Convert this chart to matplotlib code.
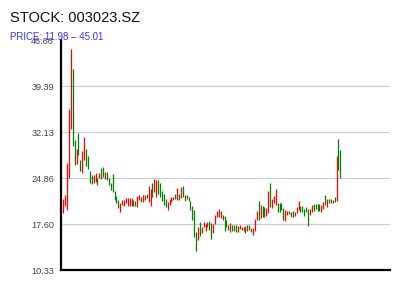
import matplotlib
matplotlib.use("Agg")
import matplotlib.pyplot as plt
import numpy as np

plt.rcParams['font.family'] = ['Liberation Sans', 'DejaVu Sans']

title = "STOCK: 003023.SZ"
subtitle = "PRICE: 11.98 \u2013 45.01"
y_ticks = [10.33, 17.60, 24.86, 32.13, 39.39, 46.66]

opens = [19.45, 20.55, 19.87, 24.97, 32.66, 42.13, 30.92, 27.13, 31.97, 27.76,
         25.66, 27.76, 29.50, 28.39, 26.03, 25.39, 24.18, 24.34, 24.87, 24.87,
         26.45, 26.71, 24.71, 25.92, 24.87, 24.18, 25.55, 22.87, 22.08, 21.45,
         19.60, 20.66, 20.55, 20.92, 20.55, 20.55, 21.71, 20.55, 21.29, 20.39,
         21.45, 21.97, 21.18, 21.45, 22.39, 21.18, 20.55, 24.18, 22.76, 21.97,
         24.60, 24.08, 22.92, 22.39, 21.55, 19.87, 20.66, 21.18, 21.45, 22.39,
         21.45, 22.39, 21.71, 23.71, 22.18, 21.55, 21.97, 21.34, 20.55, 19.87,
         16.34, 15.13,
         17.91, 16.28, 17.23, 16.60, 17.23, 18.17, 17.75, 16.17, 17.65, 18.70,
         18.81, 19.70, 18.28, 18.91, 18.28, 17.44, 16.44, 17.49, 17.49, 17.49,
         16.33, 16.81, 16.70, 16.60, 17.33, 16.60, 17.49, 17.07, 15.96, 16.60,
         18.28, 21.33, 18.54, 20.49, 20.28, 18.91, 19.33, 24.17, 20.12, 20.91,
         20.65, 21.02, 21.02, 21.02, 20.12, 18.17, 19.07, 19.23, 19.60, 19.70,
         18.91, 19.33, 19.86, 20.49, 20.49, 20.02, 20.28, 20.02, 19.07, 19.60,
         20.81, 20.81, 20.81, 20.81, 19.60, 19.96, 22.23, 20.28, 21.60, 21.60,
         21.02, 21.96, 21.33, 31.07, 29.33]
closes = [21.61, 22.24, 27.24, 35.81, 45.29, 30.03, 26.97, 29.50, 28.55, 26.08,
          29.18, 31.34, 26.87, 26.29, 24.18, 23.97, 25.39, 25.76, 23.82, 25.66,
          24.71, 25.03, 25.92, 24.60, 23.82, 23.03, 22.66, 21.45, 20.92, 20.13,
          20.92, 21.45, 21.45, 21.71, 21.71, 21.71, 20.55, 21.45, 20.55, 22.08,
          22.24, 21.18, 22.24, 22.24, 21.71, 23.71, 23.18, 21.97, 24.71, 24.60,
          22.39, 21.87, 21.34, 20.66, 20.39, 21.08, 21.55, 21.97, 21.97, 21.55,
          23.34, 21.45, 23.55, 21.87, 21.34, 22.24, 21.29, 19.87, 18.29, 15.66,
          13.45, 17.24,
          15.81, 17.23, 17.91, 17.60, 18.02, 16.70, 15.28, 17.65, 19.07, 19.70,
          20.02, 18.54, 19.07, 16.60, 17.23, 16.70, 17.75, 16.60, 16.60, 16.44,
          17.33, 17.49, 17.23, 17.23, 16.28, 17.49, 16.70, 16.44, 16.96, 18.44,
          19.70, 18.28, 20.65, 18.81, 18.70, 20.23, 22.86, 20.38, 21.65, 22.12,
          23.17, 19.60, 19.60, 19.86, 18.28, 19.86, 19.75, 19.75, 18.81, 18.70,
          19.60, 20.38, 21.33, 19.60, 19.60, 18.96, 19.60, 17.33, 20.02, 20.65,
          19.75, 19.96, 19.75, 19.75, 20.65, 21.17, 20.65, 21.60, 20.91, 21.02,
          21.44, 21.17, 28.38, 26.17, 24.86]

n = len(opens)
idx = np.arange(n)
o = np.array(opens)
c = np.array(closes)
colors = np.where(c >= o, '#ff0000', '#008000')

fig = plt.figure(figsize=(4, 3), dpi=100)
ax = fig.add_axes([0.1525, 0.099, 0.8225, 0.7667])

for t in y_ticks[1:-1]:
    ax.axhline(t, color='#cccccc', lw=0.8, zorder=0)

ax.vlines(idx, np.minimum(o, c), np.maximum(o, c), colors=colors, lw=0.9, zorder=2)

ppi = (340.3 - 63.3) / (n - 1)
ax.set_xlim(-(63.3 - 61) / ppi, (n - 1) + (390 - 340.3) / ppi)
ax.set_ylim(y_ticks[0], y_ticks[-1])
ax.set_yticks(y_ticks)
ax.set_yticklabels([f"{t:.2f}" for t in y_ticks], fontsize=6.6, color='#444444')
ax.tick_params(axis='y', length=0, pad=5)
ax.set_xticks([])
for s in ['top', 'right']:
    ax.spines[s].set_visible(False)
for s in ['left', 'bottom']:
    ax.spines[s].set_linewidth(1.6)
    ax.spines[s].set_color('black')

fig.text(10 / 400, 1 - 18 / 300, title, fontsize=10.5, color='#111111', va='center', ha='left')
fig.text(10 / 400, 1 - 37 / 300, subtitle, fontsize=7, color='#3333ff', va='center', ha='left')

fig.savefig('out.png', dpi=100)
